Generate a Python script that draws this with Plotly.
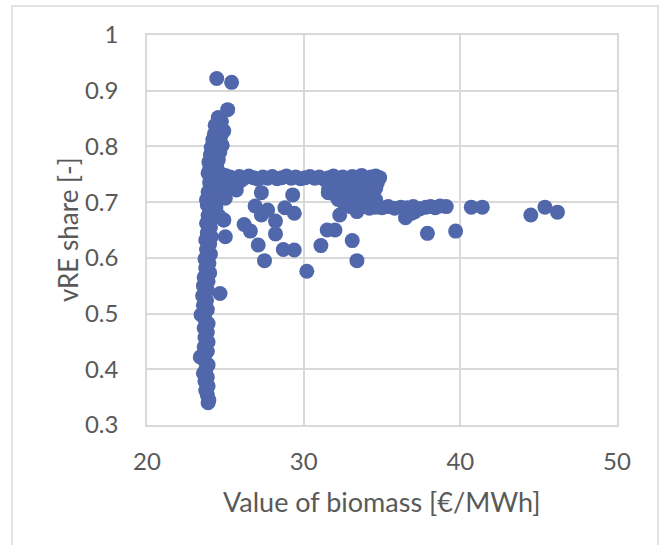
import plotly.graph_objects as go

# ---- data ----
top_x = [24.45, 25.4, 25.15]
top_y = [0.922, 0.915, 0.866]

upper_col_x = [24.55, 24.75, 24.35, 24.6, 24.9, 24.3, 24.7, 24.2, 24.5, 24.8, 24.1, 24.4, 24.65,
               24.05, 24.3, 24.55, 23.95, 24.2, 24.45, 24.0, 24.25, 24.6, 23.9, 24.15, 24.4, 24.7, 24.9]
upper_col_y = [0.852, 0.845, 0.838, 0.832, 0.828, 0.822, 0.818, 0.812, 0.808, 0.802, 0.798, 0.795, 0.79,
               0.785, 0.78, 0.776, 0.772, 0.768, 0.765, 0.76, 0.756, 0.753, 0.752, 0.748, 0.745, 0.75, 0.746]

band_x = [24.8, 25.0, 25.3, 25.6, 25.9, 26.2, 26.5, 26.8, 27.1, 27.4, 27.7, 28.0, 28.3, 28.6, 28.9,
          29.2, 29.5, 29.8, 30.1, 30.4, 30.7, 31.0, 31.3, 31.6, 31.9, 32.2, 32.5, 32.8, 33.1, 33.4,
          33.7, 34.0, 34.3, 34.6, 34.85, 25.2, 25.6, 26.0]
band_y = [0.744, 0.748, 0.745, 0.742, 0.746, 0.743, 0.747, 0.744, 0.741, 0.745, 0.743, 0.746, 0.742,
          0.744, 0.747, 0.743, 0.745, 0.742, 0.744, 0.746, 0.743, 0.745, 0.741, 0.744, 0.747, 0.743,
          0.745, 0.742, 0.746, 0.744, 0.748, 0.743, 0.745, 0.747, 0.744, 0.738, 0.736, 0.739]

block_x = [31.8, 32.3, 32.8, 33.3, 33.8, 34.3, 34.7,
           31.6, 32.1, 32.6, 33.1, 33.6, 34.1, 34.6,
           31.9, 32.4, 32.9, 33.4, 33.9, 34.4,
           32.2, 32.7, 33.2, 33.7, 34.2, 34.6,
           32.6, 33.1, 33.6, 34.1, 34.5, 31.57]
block_y = [0.735, 0.736, 0.734, 0.735, 0.736, 0.734, 0.735,
           0.725, 0.726, 0.724, 0.725, 0.726, 0.724, 0.725,
           0.715, 0.716, 0.714, 0.715, 0.716, 0.714,
           0.705, 0.706, 0.704, 0.705, 0.706, 0.704,
           0.697, 0.698, 0.696, 0.697, 0.698, 0.717]

lower_band_x = [33.0, 33.4, 33.8, 34.2, 34.6, 35.0, 35.4, 35.8, 36.2, 36.6, 37.0, 37.4, 37.8,
                38.1, 38.4, 38.7, 39.1, 36.5, 36.9, 37.1]
lower_band_y = [0.692, 0.690, 0.692, 0.689, 0.691, 0.690, 0.692, 0.689, 0.691, 0.690, 0.692, 0.688,
                0.691, 0.692, 0.690, 0.693, 0.692, 0.672, 0.680, 0.683]

tail_x = [40.7, 41.4, 44.5, 45.4, 46.2, 37.9, 39.7]
tail_y = [0.691, 0.691, 0.677, 0.691, 0.682, 0.644, 0.648]

scatter_x = [25.3, 25.7, 25.0, 24.3, 23.8, 27.3, 26.9, 27.7, 28.8, 29.3, 29.4, 27.3, 28.2, 26.2,
             26.6, 28.2, 27.1, 28.7, 29.4, 27.5, 30.2, 31.1, 31.5, 32.0, 33.1, 33.4, 32.3, 33.4,
             24.9, 24.2, 25.0, 24.66]
scatter_y = [0.725, 0.722, 0.707, 0.700, 0.704, 0.717, 0.693, 0.686, 0.690, 0.713, 0.680, 0.677,
             0.666, 0.660, 0.648, 0.643, 0.623, 0.615, 0.614, 0.595, 0.576, 0.622, 0.650, 0.650,
             0.631, 0.595, 0.677, 0.683, 0.668, 0.680, 0.638, 0.536]

mid_col_x = [24.0, 24.3, 24.6, 24.9, 24.1, 24.5, 23.9, 24.7, 24.4, 24.6, 24.9]
mid_col_y = [0.735, 0.728, 0.732, 0.725, 0.720, 0.715, 0.718, 0.710, 0.690, 0.675, 0.668]

low_col_x = [23.85, 24.1, 23.9, 24.15, 23.8, 24.05, 23.85, 24.1, 23.75, 24.0, 23.8, 24.05, 23.7,
             23.95, 23.75, 24.0, 23.65, 23.9, 23.6, 23.85, 23.55, 23.8, 23.6, 23.85, 23.45, 23.7,
             23.9, 23.65, 23.85, 23.7, 23.9, 23.65, 23.85, 23.4, 23.7, 23.9, 23.75, 23.6, 23.85,
             23.7, 23.9, 23.75, 23.85, 23.95, 23.9]
low_col_y = [0.695, 0.688, 0.676, 0.670, 0.662, 0.655, 0.645, 0.638, 0.632, 0.625, 0.615, 0.607,
             0.598, 0.590, 0.582, 0.573, 0.565, 0.558, 0.550, 0.542, 0.532, 0.524, 0.515, 0.507,
             0.498, 0.490, 0.482, 0.474, 0.466, 0.457, 0.449, 0.440, 0.432, 0.422, 0.415, 0.408,
             0.400, 0.393, 0.386, 0.378, 0.370, 0.362, 0.354, 0.345, 0.340]

x_vals = top_x + upper_col_x + band_x + block_x + lower_band_x + tail_x + scatter_x + mid_col_x + low_col_x
y_vals = top_y + upper_col_y + band_y + block_y + lower_band_y + tail_y + scatter_y + mid_col_y + low_col_y

x_ticks = [20, 30, 40, 50]
y_ticks = [0.3, 0.4, 0.5, 0.6, 0.7, 0.8, 0.9, 1.0]
y_tick_text = ["0.3", "0.4", "0.5", "0.6", "0.7", "0.8", "0.9", "1"]
x_title = "Value of biomass [€/MWh]"
y_title = "vRE share [-]"

MARK = "#5068ab"
GRID = "#d9d9d9"
TXT = "#595959"
FONT = "Lato, Carlito, 'Liberation Sans', sans-serif"

fig = go.Figure(go.Scatter(
    x=x_vals, y=y_vals, mode="markers",
    marker=dict(size=15, color=MARK, line=dict(width=0)),
    hoverinfo="x+y", showlegend=False,
))

fig.update_layout(
    width=660, height=545,
    margin=dict(l=147, r=43, t=35, b=120, autoexpand=False),
    paper_bgcolor="white", plot_bgcolor="white",
    font=dict(family=FONT, color=TXT, size=24),
    shapes=[dict(type="rect", xref="paper", yref="paper",
                 x0=-0.2872, x1=1.0872, y0=-0.33, y1=1.0744,
                 line=dict(color=GRID, width=1.5), fillcolor="rgba(0,0,0,0)", layer="below")],
    annotations=[
        dict(text=x_title, xref="paper", yref="paper", x=0.5, y=-0.197,
             xanchor="center", yanchor="middle", showarrow=False,
             font=dict(size=27, color=TXT, family=FONT)),
        dict(text=y_title, xref="paper", yref="paper", x=-0.168, y=0.5, textangle=-90,
             xanchor="center", yanchor="middle", showarrow=False,
             font=dict(size=26, color=TXT, family=FONT)),
    ],
)
fig.update_xaxes(
    range=[20, 50], tickvals=x_ticks, showgrid=True, gridcolor=GRID, gridwidth=1.5,
    showline=True, linecolor=GRID, linewidth=1.5, mirror=True, zeroline=False,
    ticks="", ticklabelstandoff=14, tickfont=dict(size=24, color=TXT),
)
fig.update_yaxes(
    range=[0.3, 1.0], tickvals=y_ticks, ticktext=y_tick_text, showgrid=True, gridcolor=GRID,
    gridwidth=1.5, showline=True, linecolor=GRID, linewidth=1.5, mirror=True, zeroline=False,
    ticks="", ticklabelstandoff=22, tickfont=dict(size=24, color=TXT),
)

fig.write_html("out.html", config={"displayModeBar": False},
               post_script="document.body.style.margin='0';")
